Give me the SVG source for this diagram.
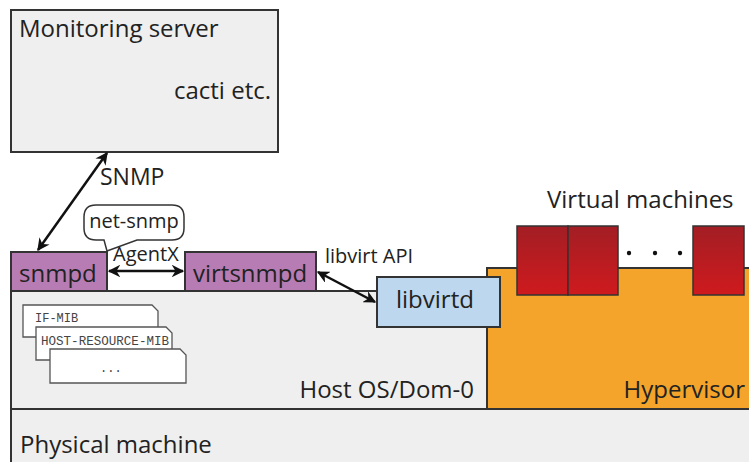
<svg xmlns="http://www.w3.org/2000/svg" width="749" height="462" viewBox="0 0 749 462">
<style>
text{font-family:"Open Sans","Liberation Sans",sans-serif;fill:#222}
.box{stroke:#333;stroke-width:2}
.gray{fill:#efefef}
.purple{fill:#b87cb4}
.big{font-size:24px}
.mid{font-size:23px}
.sm{font-size:20px}
.mono{font-family:"Liberation Mono","DejaVu Sans Mono",monospace;font-size:12px;fill:#444}
.doc{fill:#fff;stroke:#555;stroke-width:1.3}
.vm{fill:url(#vmg);stroke:#333;stroke-width:1.5}
.arr{stroke:#111;stroke-width:2.5;fill:none;marker-start:url(#ah);marker-end:url(#ah)}
</style>
<defs>
<linearGradient id="vmg" x1="0" y1="0" x2="0" y2="1">
<stop offset="0" stop-color="#a21e24"/>
<stop offset="1" stop-color="#cf1a1e"/>
</linearGradient>
<marker id="ah" viewBox="0 0 10 10" refX="9" refY="5" markerWidth="5" markerHeight="5" orient="auto-start-reverse" markerUnits="strokeWidth">
<path d="M0,0 L10,5 L0,10 L3,5 Z" fill="#111"/>
</marker>
</defs>
<rect width="749" height="462" fill="#fff"/>

<g id="physical">
<rect class="box gray" x="11" y="409" width="745" height="60"/>
<text class="big" x="20" y="453">Physical machine</text>
</g>

<g id="hostos">
<rect class="box gray" x="11" y="291" width="476" height="118"/>
<text class="big" x="474" y="398" text-anchor="end">Host OS/Dom-0</text>
</g>

<g id="hypervisor">
<rect class="box" x="487" y="268" width="270" height="141" fill="#f4a42a"/>
<text class="big" x="745" y="398" text-anchor="end">Hypervisor</text>
</g>

<g id="vms">
<text class="big" x="547" y="208">Virtual machines</text>
<rect class="vm" x="517" y="226" width="51" height="69"/>
<rect class="vm" x="568" y="226" width="50" height="69"/>
<rect class="vm" x="693" y="226" width="51" height="69"/>
<circle cx="629" cy="253" r="2.2" fill="#111"/>
<circle cx="655" cy="253" r="2.2" fill="#111"/>
<circle cx="680" cy="253" r="2.2" fill="#111"/>
</g>

<g id="monitoring">
<rect class="box gray" x="11" y="10" width="267" height="142"/>
<text class="big" x="19" y="37">Monitoring server</text>
<text class="big" x="271" y="99" text-anchor="end">cacti etc.</text>
</g>

<g id="snmpd">
<rect class="box purple" x="11" y="252" width="96" height="39"/>
<text class="big" x="19" y="282">snmpd</text>
</g>

<g id="virtsnmpd">
<rect class="box purple" x="185" y="252" width="131" height="39"/>
<text class="big" x="193" y="282">virtsnmpd</text>
</g>

<g id="libvirtd">
<rect class="box" x="377" y="277" width="123" height="50" fill="#bdd7ee"/>
<text class="big" x="396" y="308">libvirtd</text>
</g>

<g id="mibs">
<path class="doc" d="M23,305 H152 L158,311 V337 H23 Z"/>
<text class="mono" x="35" y="322">IF-MIB</text>
<path class="doc" d="M36,327 H166 L172,333 V360 H36 Z"/>
<text class="mono" x="41" y="345" textLength="128" lengthAdjust="spacingAndGlyphs">HOST-RESOURCE-MIB</text>
<path class="doc" d="M50,349 H180 L186,355 V383 H50 Z"/>
<text class="mono" x="100" y="372">...</text>
</g>

<g id="callout">
<path d="M96,205 H172 Q184,205 184,217 V228 Q184,240 172,240 H137 L107,251 L104,240 H96 Q84,240 84,228 V217 Q84,205 96,205 Z" fill="#fff" stroke="#333" stroke-width="1.5"/>
<text class="sm" x="134" y="228" text-anchor="middle">net-snmp</text>
</g>

<g id="connectors">
<line class="arr" x1="38" y1="250" x2="107" y2="153"/>
<text class="mid" x="100" y="185">SNMP</text>
<line class="arr" x1="109" y1="271" x2="183" y2="271"/>
<text class="sm" x="113" y="261">AgentX</text>
<line class="arr" x1="318" y1="272" x2="375" y2="302"/>
<text class="sm" x="325" y="263">libvirt API</text>
</g>
</svg>
